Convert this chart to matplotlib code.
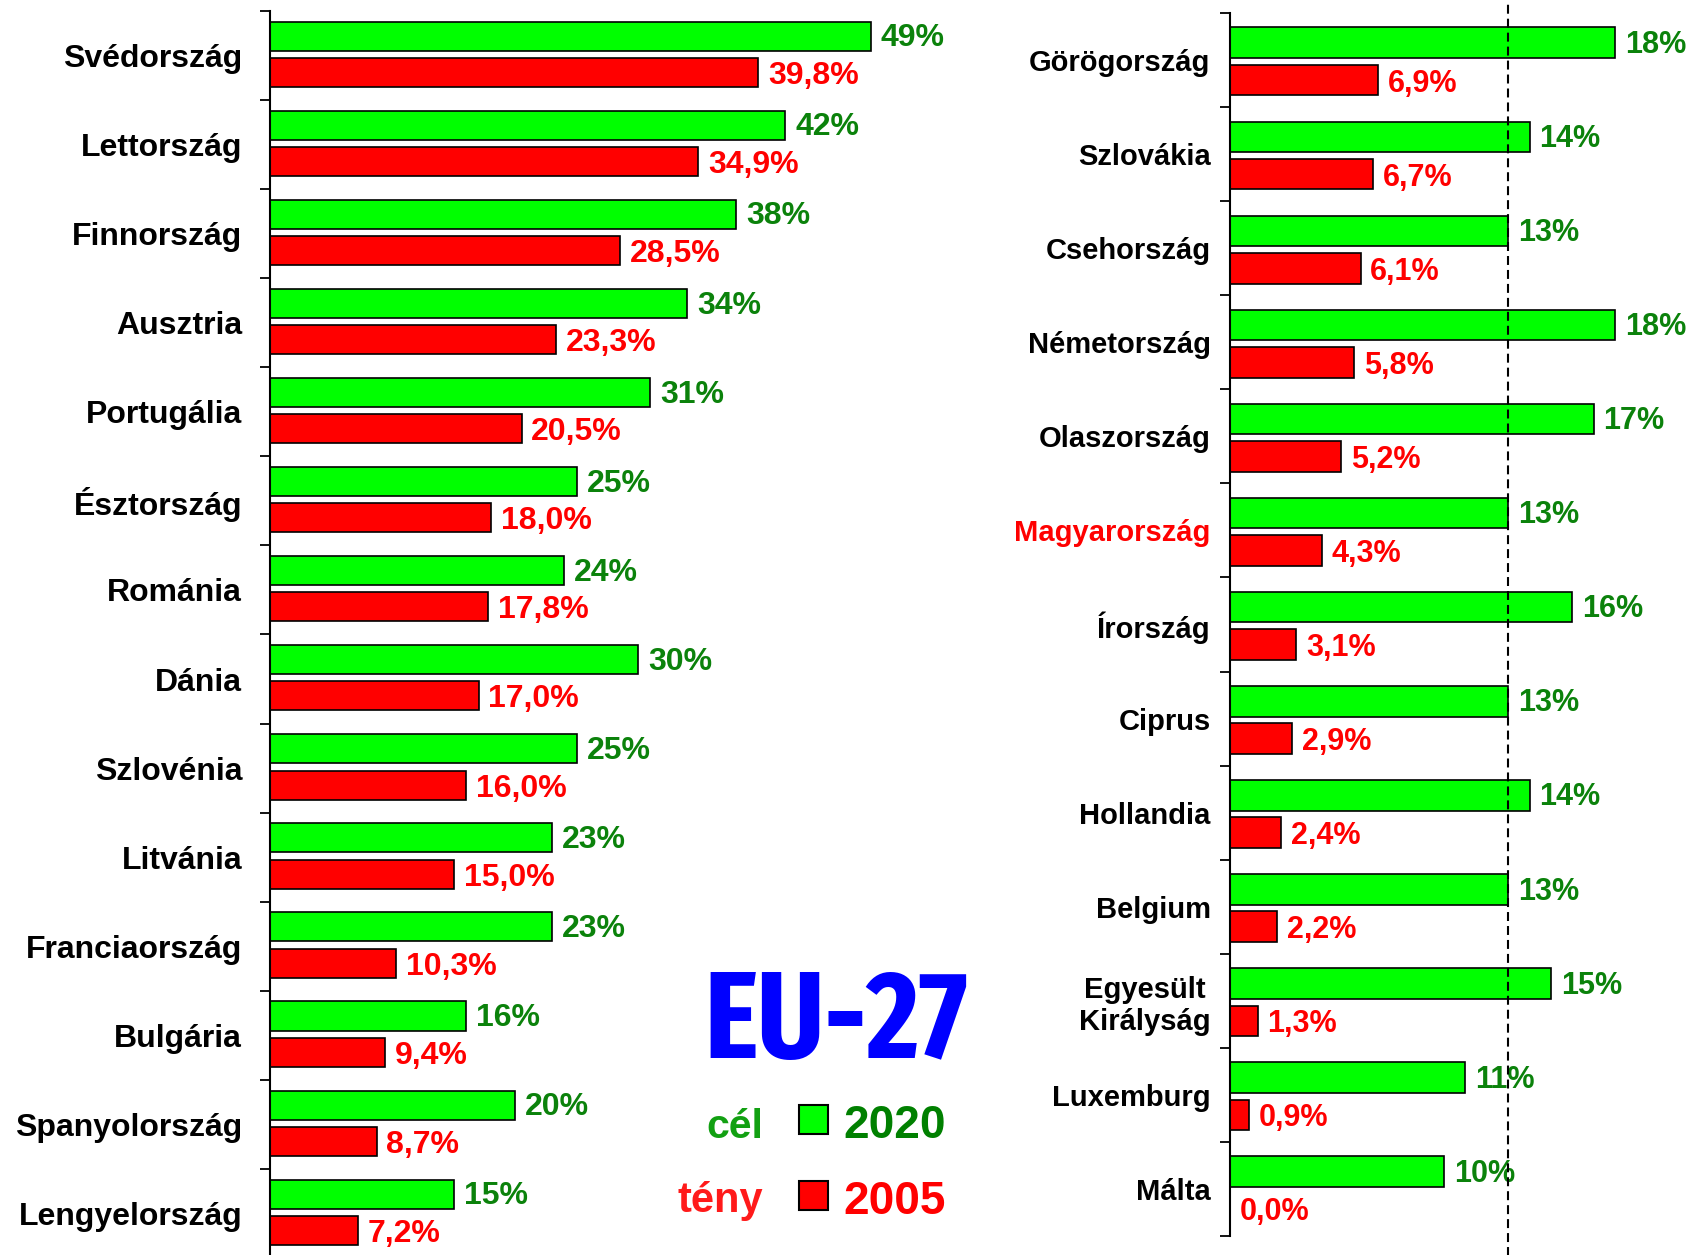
import matplotlib.pyplot as plt
from matplotlib.patches import Rectangle
import numpy as np

plt.rcParams['font.family'] = ['Liberation Sans', 'DejaVu Sans']
plt.rcParams['font.weight'] = 'bold'

# renewable share: 2020 target (cél) and 2005 actual (tény)
left_countries = ['Svédország', 'Lettország', 'Finnország', 'Ausztria', 'Portugália',
                  'Észtország', 'Románia', 'Dánia', 'Szlovénia', 'Litvánia',
                  'Franciaország', 'Bulgária', 'Spanyolország', 'Lengyelország']
left_target = [49, 42, 38, 34, 31, 25, 24, 30, 25, 23, 23, 16, 20, 15]
left_actual = [39.8, 34.9, 28.5, 23.3, 20.5, 18.0, 17.8, 17.0, 16.0, 15.0, 10.3, 9.4, 8.7, 7.2]

right_countries = ['Görögország', 'Szlovákia', 'Csehország', 'Németország', 'Olaszország',
                   'Magyarország', 'Írország', 'Ciprus', 'Hollandia', 'Belgium',
                   'Egyesült\nKirályság', 'Luxemburg', 'Málta']
right_target = [18, 14, 13, 18, 17, 13, 16, 13, 14, 13, 15, 11, 10]
right_actual = [6.9, 6.7, 6.1, 5.8, 5.2, 4.3, 3.1, 2.9, 2.4, 2.2, 1.3, 0.9, 0.0]

hu_target = 13

W, H = 1691, 1255
fig = plt.figure(figsize=(W / 100, H / 100), dpi=100)

GREEN = '#00ff00'
RED = '#ff0000'
DGREEN = '#0b820b'


def box(x0, y0, x1, y1):
    # pixel box (top-left origin) -> figure fraction
    return [x0 / W, 1 - y1 / H, (x1 - x0) / W, (y1 - y0) / H]


def fmt(v):
    return ('%.1f' % v).replace('.', ',') + '%'


def panel(rect, names, target, actual, xmax, g_off, r_off, h, name_size, val_size, pad):
    ax = fig.add_axes(rect)
    n = len(names)
    y = np.arange(n)
    ax.barh(y + g_off, target, height=h, color=GREEN, edgecolor='black', lw=1.2, zorder=2)
    ax.barh(y + r_off, actual, height=h, color=RED, edgecolor='black', lw=1.2, zorder=2)
    ax.set_xlim(0, xmax)
    ax.set_ylim(n, 0)
    for s in ['top', 'right', 'bottom']:
        ax.spines[s].set_visible(False)
    ax.spines['left'].set_linewidth(1.5)
    ax.set_xticks([])
    ax.set_yticks(np.arange(n + 1))
    ax.set_yticklabels([])
    ax.set_yticks(y + 0.5, minor=True)
    ax.set_yticklabels(names, minor=True, fontsize=name_size, fontweight='bold')
    ax.tick_params(axis='y', which='major', length=7, width=1.3, direction='out')
    ax.tick_params(axis='y', which='minor', length=0, pad=pad)
    for lab in ax.get_yticklabels(minor=True):
        lab.set_multialignment('center')
    for i in range(n):
        ax.annotate('%d%%' % target[i], (target[i], i + g_off), xytext=(7, -1.5),
                    textcoords='offset points', va='center', ha='left',
                    color=DGREEN, fontsize=val_size, fontweight='bold')
        ax.annotate(fmt(actual[i]), (actual[i], i + r_off), xytext=(7, -2.5),
                    textcoords='offset points', va='center', ha='left',
                    color=RED, fontsize=val_size, fontweight='bold')
    return ax


ax1 = panel(box(270, 11, 270 + 50 * 12.27, 1258), left_countries, left_target, left_actual,
            50, 0.283, 0.69, 0.326, 23, 23, 20)
ax2 = panel(box(1230, 13, 1230 + 20 * 21.4, 1236), right_countries, right_target, right_actual,
            20, 0.316, 0.713, 0.325, 21, 22, 14)

# Hungary highlighted
for lab in ax2.get_yticklabels(minor=True):
    if lab.get_text() == 'Magyarország':
        lab.set_color(RED)

ax2.axvline(hu_target, ymin=-0.016, ymax=1.011, color='black', lw=1.5,
            ls=(0, (4.3, 2.4)), clip_on=False, zorder=3)

# EU-27 block with legend
fig.text(836 / W, 1 - 1025 / H, 'EU-27', color='#0000ff', fontsize=89, fontweight='bold',
         family=['Fira Sans Extra Condensed', 'Liberation Sans', 'DejaVu Sans'],
         ha='center', va='center')
fig.text(763 / W, 1 - 1138 / H, 'cél', color='#12a012', fontsize=29.5, fontweight='bold',
         ha='right', va='baseline')
fig.text(763 / W, 1 - 1212 / H, 'tény', color='#ff1a1a', fontsize=30, fontweight='bold',
         ha='right', va='baseline')
fig.patches.append(Rectangle((799 / W, 1 - 1134 / H), 29 / W, 29 / H, transform=fig.transFigure,
                             facecolor=GREEN, edgecolor='black', lw=1.5))
fig.patches.append(Rectangle((799 / W, 1 - 1210 / H), 29 / W, 29 / H, transform=fig.transFigure,
                             facecolor=RED, edgecolor='black', lw=1.5))
fig.text(843 / W, 1 - 1138 / H, '2020', color='#008000', fontsize=33, fontweight='bold',
         ha='left', va='baseline')
fig.text(843 / W, 1 - 1214 / H, '2005', color=RED, fontsize=33, fontweight='bold',
         ha='left', va='baseline')

fig.savefig('out.png', dpi=100)
